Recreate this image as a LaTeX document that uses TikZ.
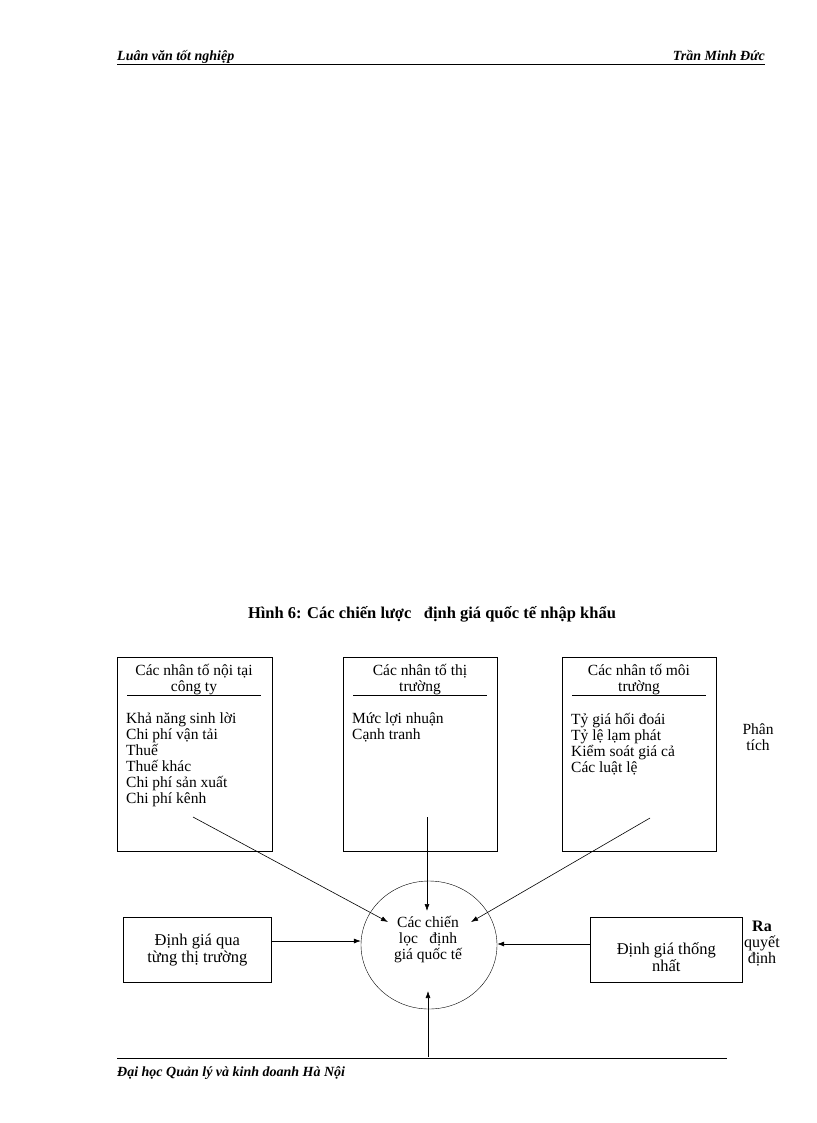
\documentclass[tikz,border=0pt]{standalone}
\usepackage{fontspec}
\setmainfont{Liberation Serif}
\usetikzlibrary{arrows.meta,shapes.geometric}
\begin{document}
\begin{tikzpicture}[x=1pt,y=-1pt,
  box/.style={draw,line width=0.6pt},
  txt/.style={font=\fontsize{15.5}{16}\selectfont,align=left,anchor=north west,inner sep=0pt},
  ctr/.style={font=\fontsize{15.5}{16}\selectfont,align=center,inner sep=0pt},
  hd/.style={inner sep=0pt,font=\bfseries\itshape\fontsize{14}{14}\selectfont},
  arr/.style={-{Latex[length=7pt,width=5pt]},line width=0.6pt}]
\useasboundingbox (0,0) rectangle (816,1123);
% header & footer
\draw[line width=0.6pt] (117,64) -- (765,64);
\node[hd,anchor=base west] (h1) at (117,61) {Luân văn tốt nghiệp};
\node[hd,anchor=base east] (h2) at (765,61) {Trần Minh Đức};
\draw[line width=0.6pt] (117,1058) -- (727,1058);
\node[hd,anchor=base west] (f1) at (117,1076) {Đại học Quản lý và kinh doanh Hà Nội};
% title
\node[font=\bfseries\fontsize{16.5}{16}\selectfont] (title) at (432,614) {Hình 6: Các chiến lược\ \ \ định giá quốc tế nhập khẩu};
% boxes
\node[box,minimum width=155,minimum height=194,anchor=north west] (b1) at (117,657) {};
\node[box,minimum width=154,minimum height=194,anchor=north west] (b2) at (343,657) {};
\node[box,minimum width=154,minimum height=194,anchor=north west] (b3) at (562,657) {};
\node[ctr] (t1) at (194,680) {Các nhân tố nội tại\\công ty};
\node[ctr] (t2) at (420,680) {Các nhân tố thị\\trường};
\node[ctr] (t3) at (639,680) {Các nhân tố môi\\trường};
\draw (127,695) -- (261,695);
\draw (353,695) -- (487,695);
\draw (572,695) -- (706,695);
\node[txt] (l1) at (126,713) {Khả năng sinh lời\\Chi phí vận tải\\Thuế\\Thuế khác\\Chi phí sản xuất\\Chi phí kênh};
\node[txt] (l2) at (352,713) {Mức lợi nhuận\\Cạnh tranh};
\node[txt] (l3) at (571,713) {Tỷ giá hối đoái\\Tỷ lệ lạm phát\\Kiểm soát giá cả\\Các luật lệ};
\node[ctr] (pt) at (758,737) {Phân\\tích};
% centre
\node[draw,ellipse,minimum width=136,minimum height=128,inner sep=0pt] (c) at (429,945) {};
\node[ctr] (ct) at (428,940) {Các chiến\\lọc\ \ \ định\\giá quốc tế};
\node[box,minimum width=148,minimum height=65,anchor=north west] (lb) at (123,917) {};
\node[ctr,font=\fontsize{16.5}{17}\selectfont] at (lb.center) {Định giá qua\\từng thị trường};
\node[box,minimum width=152,minimum height=65,anchor=north west] (rb) at (590,917) {};
\node[ctr,font=\fontsize{16.5}{17}\selectfont] at ([yshift=-7]rb.center) {Định giá thống\\nhất};
\node[ctr,font=\fontsize{16}{16}\selectfont] (rq) at (762,944) {\textbf{Ra}\\quyết\\định};
% arrows
\coordinate (s1) at (193,817); \coordinate (e1) at (388,922);
\coordinate (s2) at (427,817); \coordinate (e2) at (427,911);
\coordinate (s3) at (650,818); \coordinate (e3) at (471,922);
\coordinate (s6) at (428,1057); \coordinate (e6) at (428,991);
\draw[arr] (s1) -- (e1);
\draw[arr] (s2) -- (e2);
\draw[arr] (s3) -- (e3);
\draw[arr] (lb.east |- 0,941) -- (c.west |- 0,941);
\draw[arr] (rb.west |- 0,944) -- (c.east |- 0,944);
\draw[arr] (s6) -- (e6);
\end{tikzpicture}
\end{document}
